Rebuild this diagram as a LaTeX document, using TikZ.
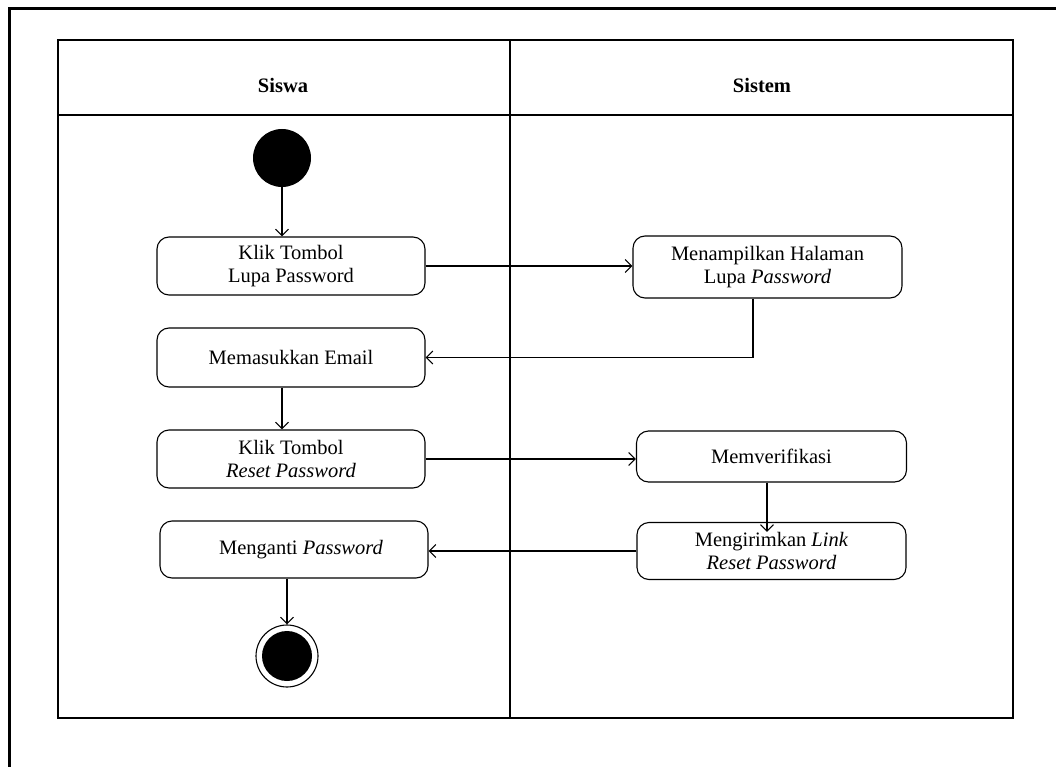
\documentclass[tikz,border=0pt]{standalone}
\usepackage{fontspec}
\setmainfont{Liberation Serif}
\usetikzlibrary{arrows.meta}
\begin{document}
\begin{tikzpicture}[x=1pt,y=-1pt,
  font=\fontsize{20.5}{23.5}\selectfont,
  act/.style={draw, line width=1.1pt, rounded corners=12pt, align=center,
    inner sep=0pt, minimum width=268pt},
  flow/.style={line width=1.1pt, -{Straight Barb[length=6.5pt,width=13pt,line width=1.1pt]}},
  lane/.style={line width=1.3pt},
  hdr/.style={font=\fontsize{20.5}{23.5}\selectfont\bfseries}]
\useasboundingbox (0,0) rectangle (1056,767);
% outer frame, running off the page
\begin{scope}
  \clip (0,0) rectangle (1056,767);
  \draw[line width=2.6pt] (9.5,800) -- (9.5,8.5) -- (1100,8.5);
\end{scope}
% swimlane table
\draw[lane] (58,40) rectangle (1013,718);
\draw[lane] (58,115) -- (1013,115);
\draw[lane] (510,40) -- (510,718);
\node[hdr] (h1) at (283,85) {Siswa};
\node[hdr] (h2) at (762,85) {Sistem};
% start and end
\node[circle, fill=black, minimum size=58pt, inner sep=0pt] (start) at (282,158) {};
\node[circle, draw, line width=1.1pt, minimum size=62pt, inner sep=0pt] (endo) at (287,656) {};
\node[circle, fill=black, minimum size=50pt, inner sep=0pt] (endi) at (287,656) {};
% activities
\node[act, minimum height=58pt] (a1) at (291,266) {Klik Tombol\\Lupa Password};
\node[act, minimum height=62pt, minimum width=269pt] (b1) at (767.5,267) {Menampilkan Halaman\\Lupa \textit{Password}};
\node[act, minimum height=59pt] (a2) at (291,357.5) {Memasukkan Email};
\node[act, minimum height=58pt] (a3) at (291,459) {Klik Tombol\\\textit{Reset Password}};
\node[act, minimum height=51pt, minimum width=270pt] (b2) at (771.5,456.5) {Memverifikasi};
\node[act, minimum height=57pt, minimum width=269pt] (b3) at (771.5,551) {Mengirimkan \textit{Link}\\\textit{Reset Password}};
\node[act, minimum height=57pt] (a4) at (294,549.5) {\hspace*{14pt}Menganti \textit{Password}};
% flows
\draw[flow] (start.south) -- (start.south |- a1.north);
\draw[flow] (a1.east) -- (a1.east -| b1.west);
\draw[flow] ([xshift=-14.5pt]b1.south) |- (a2.east);
\draw[flow] ([xshift=-9pt]a2.south) -- ([xshift=-9pt]a3.north);
\draw[flow] (a3.east) -- (a3.east -| b2.west);
\draw[flow] ([xshift=-4.5pt]b2.south) -- ([xshift=-4.5pt,yshift=-10pt]b3.north);
\draw[flow] (b3.west) -- (b3.west -| a4.east);
\draw[flow] ([xshift=-7pt]a4.south) -- (endo.north);
\end{tikzpicture}
\end{document}
